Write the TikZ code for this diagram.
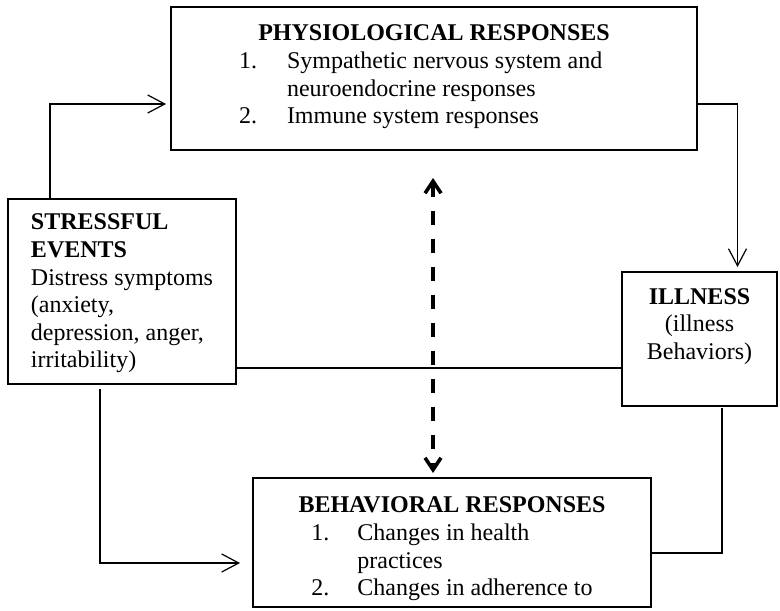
\documentclass[tikz,border=0pt]{standalone}
\usepackage{fontspec}
\setmainfont{Liberation Serif}
\usetikzlibrary{arrows.meta, calc}

\begin{document}
\begin{tikzpicture}[x=0.5pt, y=-0.5pt, font=\fontsize{12}{13.8}\selectfont,
    box/.style={draw, line width=0.8pt, inner sep=0pt, outer sep=0pt},
    link/.style={line width=0.6pt, -{Straight Barb[length=8.5pt, width=9pt]}},
    plain/.style={line width=0.6pt},
    dashlink/.style={line width=1.8pt, dash pattern=on 7pt off 7pt,
        {Straight Barb[length=6pt, width=8pt]}-{Straight Barb[length=6pt, width=8pt]}}]
    \useasboundingbox (0,0) rectangle (780,610);

    % Physiological responses
    \node[box, minimum width=263pt, minimum height=71.5pt, align=center] (phys) at (434,78.5) {\textbf{PHYSIOLOGICAL RESPONSES}\\
        \begin{tabular}[t]{@{}p{24pt}@{}p{171pt}@{}}
        1. & Sympathetic nervous system and\\
           & neuroendocrine responses\\
        2. & Immune system responses
        \end{tabular}};

    % Stressful events
    \node[box, minimum width=114pt, minimum height=92.5pt, align=left] (stress) at (122,291.5) {\rule{0pt}{10pt}\textbf{STRESSFUL}\\ \textbf{EVENTS}\\ Distress symptoms\\ (anxiety,\\ depression, anger,\\ irritability)};

    % Illness
    \node[box, minimum width=77.5pt, minimum height=67pt, align=center] (ill) at (699.5,339) {\textbf{ILLNESS}\\ (illness\\ Behaviors)\\[1.5pt] \mbox{}};

    % Behavioral responses
    \node[box, minimum width=199pt, minimum height=64.5pt, align=center] (behav) at (452,542.5) {\rule{0pt}{16pt}\textbf{BEHAVIORAL RESPONSES}\\
        \begin{tabular}[t]{@{}p{23pt}@{}l@{}}
        1. & Changes in health\\
           & practices\\
        2. & Changes in adherence to
        \end{tabular}};

    % Arrows
    \draw[link] ($(stress.north west)+(42,0)$) |- ($(phys.south west)+(-5,-46)$);
    \draw[link] ($(phys.south east)+(0,-46)$) -| ($(ill.north)+(38,-5)$);
    \draw[plain] ($(stress.south east)+(0,-16)$) -- ($(ill.west)+(0,29)$);
    \draw[link] ($(stress.south west)+(92,5)$) |- ($(behav.west)+(-13,20.5)$);
    \draw[plain] ($(behav.east)+(0,10.5)$) -| ($(ill.south)+(22.5,2)$);
    \draw[dashlink] ($(phys.south)+(-1,28)$) -- ($(behav.north)+(-19,-5)$);
\end{tikzpicture}
\end{document}
